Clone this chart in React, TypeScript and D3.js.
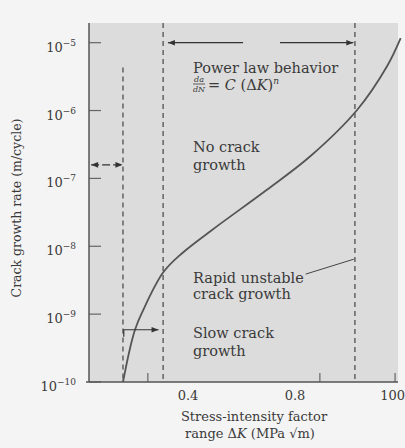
import React from "react"
import * as d3 from "d3"

// curve: stress-intensity range vs crack growth rate
const curveK = [0.157, 0.176, 0.191, 0.202, 0.228, 0.307, 0.378, 0.49, 0.695, 0.856, 1.032, 1.144, 1.195]
const curveRate = [1e-10, 2.34e-10, 4.17e-10, 5.9e-10, 1.05e-9, 4.1e-9, 7.9e-9, 1.74e-8, 6.8e-8, 2.1e-7, 1.02e-6, 4.5e-6, 1.17e-5]

const yTickValues = [1e-10, 1e-9, 1e-8, 1e-7, 1e-6, 1e-5]
const yTickExponents = ["−10", "−9", "−8", "−7", "−6", "−5"]
const xTickLabelValues = [0.4, 0.8, 1.165]
const xTickLabels = ["0.4", "0.8", "100"]
const xTickMarks = [0.25, 0.893, 1.174]

// regime boundaries (dashed lines) and the rate where they start
const boundaryK = [0.157, 0.307, 1.024]
const boundaryTop = [4.3e-6, 2e-5, 2e-5]

const W = 405
const H = 448
const FONT = "'DejaVu Serif', 'Liberation Serif', serif"
const INK = "#3a3a3a"

const App = () => {
	const x = d3.scaleLinear().domain([0.03, 1.185]).range([89, 398])
	const y = d3.scaleLog().domain([1e-10, Math.pow(10, -4.71)]).range([382, 23])

	const line = d3
		.line<number>()
		.x((_, i) => x(curveK[i]))
		.y((d) => y(d))
		.curve(d3.curveCatmullRom.alpha(0.5))

	const yMin = y(1e-10)
	const yTop = y.range()[1]

	// arrows
	const powerY = y(1e-5)
	const noCrackY = y(Math.pow(10, -6.8))
	const slowY = y(Math.pow(10, -9.23))

	return (
		<svg
			width={W}
			height={H}
			style={{ position: "absolute", left: 0, top: 0, display: "block", background: "#f4f4f4" }}
			fontFamily={FONT}
		>
			<defs>
				<marker id="arr" viewBox="0 0 10 10" refX="10" refY="5" markerWidth="9" markerHeight="7" orient="auto-start-reverse" markerUnits="userSpaceOnUse">
					<path d="M0,1 L10,5 L0,9 Z" fill="#333" />
				</marker>
			</defs>

			<rect x={x(0.03)} y={yTop} width={x(1.185) - x(0.03)} height={yMin - yTop} fill="#dcdcdc" />

			{/* y ticks */}
			{yTickValues.map((v, i) => (
				<g key={i}>
					<line x1={x(0.03)} x2={x(0.03) + 12} y1={y(v)} y2={y(v)} stroke="#666" strokeWidth={1.2} />
					<text x={76} y={y(v) + 9} textAnchor="end" fontSize={13} fill={INK}>
						10
						<tspan fontSize={9} dy={-6}>{yTickExponents[i]}</tspan>
					</text>
				</g>
			))}

			{/* x ticks */}
			{xTickMarks.map((v, i) => (
				<line key={i} x1={x(v)} x2={x(v)} y1={yMin} y2={yMin - 9} stroke="#666" strokeWidth={1.2} />
			))}
			{xTickLabelValues.map((v, i) => (
				<text key={i} x={x(v)} y={400} textAnchor="middle" fontSize={13} fill={INK}>
					{xTickLabels[i]}
				</text>
			))}

			{/* axes */}
			<line x1={x(0.03)} x2={x(0.03)} y1={yTop} y2={yMin} stroke="#555" strokeWidth={1.5} />
			<line x1={x(0.03) - 3} x2={x(1.185)} y1={yMin} y2={yMin} stroke="#555" strokeWidth={1.5} />

			{/* boundaries */}
			{boundaryK.map((k, i) => (
				<line
					key={i}
					x1={x(k)}
					x2={x(k)}
					y1={Math.max(y(boundaryTop[i]), yTop)}
					y2={yMin}
					stroke="#444"
					strokeWidth={1.2}
					strokeDasharray="5,4"
				/>
			))}

			{/* curve */}
			<path d={line(curveRate) ?? ""} fill="none" stroke="#555" strokeWidth={1.8} />

			{/* power law range arrow */}
			<line x1={x(0.606)} x2={x(0.325)} y1={powerY} y2={powerY} stroke="#333" strokeWidth={1.2} markerEnd="url(#arr)" />
			<line x1={x(0.744)} x2={x(1.018)} y1={powerY} y2={powerY} stroke="#333" strokeWidth={1.2} markerEnd="url(#arr)" />

			{/* no crack growth arrow */}
			<line x1={x(0.038)} x2={x(0.155)} y1={noCrackY} y2={noCrackY} stroke="#333" strokeWidth={1.2} strokeDasharray="8,3" markerStart="url(#arr)" markerEnd="url(#arr)" />

			{/* slow crack growth arrow */}
			<path d={`M${x(0.16)},${slowY + 7} V${slowY} H${x(0.29)}`} fill="none" stroke="#333" strokeWidth={1.2} markerEnd="url(#arr)" />

			{/* leader to rapid growth boundary */}
			<line x1={x(0.84)} x2={x(1.02)} y1={y(Math.pow(10, -8.41))} y2={y(Math.pow(10, -8.19))} stroke="#444" strokeWidth={1} />

			{/* annotations */}
			<g fontSize={14.5} fill={INK}>
				<text x={193} y={73}>Power law behavior</text>
				<text x={193} y={152}>No crack</text>
				<text x={193} y={170}>growth</text>
				<text x={193} y={283}>Rapid unstable</text>
				<text x={193} y={299}>crack growth</text>
				<text x={193} y={338}>Slow crack</text>
				<text x={193} y={356}>growth</text>
			</g>

			{/* da/dN = C (ΔK)^n */}
			<g fill={INK}>
				<text x={199} y={82} fontSize={8} textAnchor="middle" fontStyle="italic">da</text>
				<line x1={193} x2={205} y1={84} y2={84} stroke={INK} strokeWidth={0.8} />
				<text x={199} y={92} fontSize={8} textAnchor="middle" fontStyle="italic">dN</text>
				<text x={208} y={90} fontSize={14.5}>
					= <tspan fontStyle="italic">C</tspan> (Δ<tspan fontStyle="italic">K</tspan>)
					<tspan fontSize={9} dy={-6} fontStyle="italic">n</tspan>
				</text>
			</g>

			{/* axis titles */}
			<text transform={`translate(21,${208}) rotate(-90)`} textAnchor="middle" fontSize={12.5} fill={INK}>
				Crack growth rate (m/cycle)
			</text>
			<text x={254} y={421} textAnchor="middle" fontSize={13} fill={INK}>
				Stress-intensity factor
			</text>
			<text x={250} y={438} textAnchor="middle" fontSize={13} fill={INK}>
				range Δ<tspan fontStyle="italic">K</tspan> (MPa √m)
			</text>
		</svg>
	)
}

export default App
